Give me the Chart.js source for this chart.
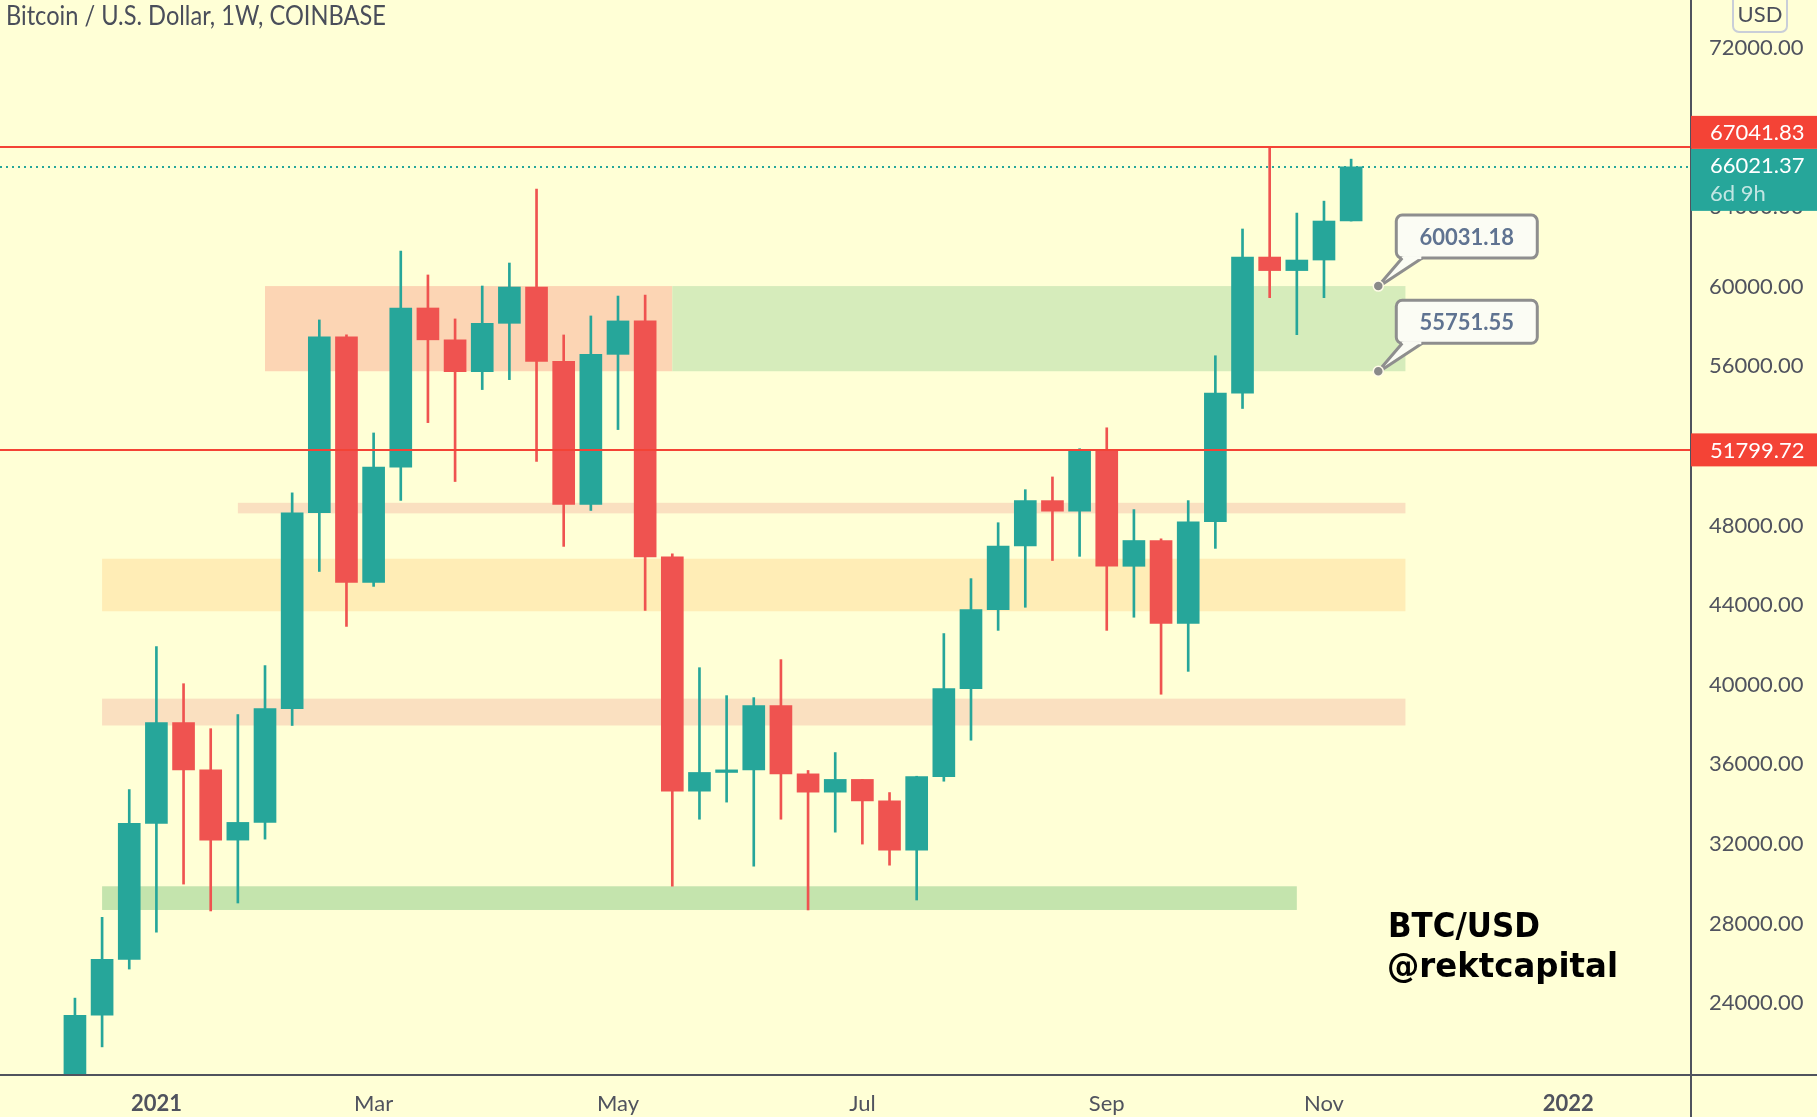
<!DOCTYPE html>
<html>
<head>
<meta charset="utf-8">
<script src="https://cdn.jsdelivr.net/npm/chart.js@4.4.1/dist/chart.umd.min.js"></script>
<style>
  html, body { margin: 0; padding: 0; background: #ffffd6; }
  #wrap { width: 1817px; height: 1117px; }
</style>
</head>
<body>
<div id="wrap"><canvas id="btcChart"></canvas></div>
<script>
// weekly candles, Coinbase BTC/USD (week starting Monday)
const weeks = ['2020-12-14','2020-12-21','2020-12-28','2021-01-04','2021-01-11','2021-01-18','2021-01-25','2021-02-01',
  '2021-02-08','2021-02-15','2021-02-22','2021-03-01','2021-03-08','2021-03-15','2021-03-22','2021-03-29',
  '2021-04-05','2021-04-12','2021-04-19','2021-04-26','2021-05-03','2021-05-10','2021-05-17','2021-05-24',
  '2021-05-31','2021-06-07','2021-06-14','2021-06-21','2021-06-28','2021-07-05','2021-07-12','2021-07-19',
  '2021-07-26','2021-08-02','2021-08-09','2021-08-16','2021-08-23','2021-08-30','2021-09-06','2021-09-13',
  '2021-09-20','2021-09-27','2021-10-04','2021-10-11','2021-10-18','2021-10-25','2021-11-01','2021-11-08'];
const open  = [19200,23390,26200,33030,38100,35720,32190,33080,38800,48640,57475,45140,50930,58930,57330,55730,
  58160,59985,56250,49060,56600,58280,46420,34650,35590,35720,38950,35520,34600,35240,34160,31690,
  35380,39800,43770,46970,49250,48720,51760,45950,47245,43080,48190,54650,61490,60810,61340,63300];
const high  = [24250,28310,34730,41910,40050,37790,38500,40960,49640,58330,57580,52650,61790,60590,58380,60035,
  61190,64900,57575,58530,59530,59580,46580,40855,39450,39350,41260,35690,36590,35240,34580,35400,
  42570,45330,48140,49800,50440,51860,52910,48800,47330,49250,56530,62900,67041.83,63700,64300,66410];
const low   = [19000,21800,25710,27570,29980,28630,29030,32240,37950,45690,42930,44940,49260,53170,50210,54830,
  55330,51215,46950,48755,52820,43735,29880,33240,34100,30880,33240,28680,32590,31990,30930,29180,
  35150,37210,42730,43890,46240,46450,42730,43390,39520,40670,46850,53880,59450,57590,59450,63300];
const close = [23390,26200,33030,38100,35720,32190,33080,38800,48640,57475,45140,50930,58930,57330,55730,58160,
  59985,56250,49060,56600,58280,46420,34650,35590,35720,38950,35520,34600,35240,34160,31690,35380,
  39800,43770,46970,49250,48720,51760,45950,47245,43080,48190,54650,61490,60810,61340,63300,66021.37];

const xTickIdx = [3, 11, 20, 29, 38, 46, 55];
const xTickLabels = ['2021', 'Mar', 'May', 'Jul', 'Sep', 'Nov', '2022'];
const yTicks = [24000, 28000, 32000, 36000, 40000, 44000, 48000, 52000, 56000, 60000, 64000, 68000, 72000];

const levelLines = [67041.83, 51799.72];
const lastPrice = 66021.37;
const countdown = '6d 9h';

// drawn zones: week index from/to, price low/high
const zoneStart = [7, 22, 6, 1, 1, 1];
const zoneEnd   = [22, 49, 49, 49, 49, 45];
const zoneLow   = [55751.55, 55751.55, 48610, 43690, 37950, 28680];
const zoneHigh  = [60031.18, 60031.18, 49140, 46330, 39300, 29870];
const calloutIdx = 48;
const calloutValues = [60031.18, 55751.55];

const UP = '#26a69a', DOWN = '#ef5350', RED = '#f44336', TEXT = '#50535e', BG = '#ffffd6';
const zoneColors = ['#fcd5b4', '#d6ecbb', '#fae0c0', '#ffedb6', '#fae0c0', '#c4e4ad'];

Chart.defaults.font.family = 'Lato';
Chart.defaults.color = TEXT;

const candleColors = close.map((c, i) => c >= open[i] ? UP : DOWN);

function rrect(ctx, x, y, w, h, r) {
  ctx.beginPath();
  ctx.moveTo(x + r, y);
  ctx.arcTo(x + w, y, x + w, y + h, r);
  ctx.arcTo(x + w, y + h, x, y + h, r);
  ctx.arcTo(x, y + h, x, y, r);
  ctx.arcTo(x, y, x + w, y, r);
  ctx.closePath();
}

const overlay = {
  id: 'overlay',
  beforeDraw(chart) {
    const ctx = chart.ctx;
    ctx.save();
    ctx.fillStyle = BG;
    ctx.fillRect(0, 0, chart.width, chart.height);
    ctx.restore();
  },
  beforeDatasetsDraw(chart) {
    const {ctx, chartArea: a, scales: {x, y}} = chart;
    ctx.save();
    ctx.beginPath();
    ctx.rect(a.left, a.top, a.right - a.left, a.bottom - a.top);
    ctx.clip();
    zoneStart.forEach((s, i) => {
      const x0 = x.getPixelForValue(s), x1 = x.getPixelForValue(zoneEnd[i]);
      const y0 = y.getPixelForValue(zoneHigh[i]), y1 = y.getPixelForValue(zoneLow[i]);
      ctx.fillStyle = zoneColors[i];
      ctx.fillRect(x0, y0, x1 - x0, y1 - y0);
    });
    ctx.restore();
  },
  afterDatasetsDraw(chart) {
    const {ctx, chartArea: a, scales: {x, y}} = chart;
    ctx.save();
    // horizontal levels
    ctx.strokeStyle = RED;
    ctx.lineWidth = 2;
    levelLines.forEach(v => {
      const py = Math.round(y.getPixelForValue(v));
      ctx.beginPath(); ctx.moveTo(a.left, py); ctx.lineTo(a.right, py); ctx.stroke();
    });
    // last price dotted line
    const lp = Math.round(y.getPixelForValue(lastPrice));
    ctx.strokeStyle = UP;
    ctx.setLineDash([2, 4]);
    ctx.beginPath(); ctx.moveTo(a.left, lp); ctx.lineTo(a.right, lp); ctx.stroke();
    ctx.setLineDash([]);

    // callouts
    calloutValues.forEach(v => {
      const px = x.getPixelForValue(calloutIdx), py = y.getPixelForValue(v);
      const bx = px + 18, by = py - 71, bw = 141, bh = 43;
      ctx.lineWidth = 3;
      ctx.strokeStyle = '#8e8e8e';
      ctx.fillStyle = '#fbfcf4';
      rrect(ctx, bx, by, bw, bh, 6);
      ctx.fill(); ctx.stroke();
      // tail
      ctx.beginPath();
      ctx.moveTo(bx + 6, by + bh - 1.5);
      ctx.lineTo(px + 2, py - 2);
      ctx.lineTo(bx + 26, by + bh - 1.5);
      ctx.closePath();
      ctx.fill();
      ctx.beginPath();
      ctx.moveTo(bx + 6, by + bh); ctx.lineTo(px, py);
      ctx.moveTo(bx + 26, by + bh); ctx.lineTo(px + 3, py - 1);
      ctx.stroke();
      ctx.fillStyle = '#fbfcf4';
      ctx.fillRect(bx + 7, by + bh - 2, 18, 3);
      // anchor dot
      ctx.beginPath(); ctx.arc(px, py, 5, 0, Math.PI * 2);
      ctx.fillStyle = '#8a8a8a'; ctx.fill();
      ctx.lineWidth = 1.5; ctx.strokeStyle = '#fffbe8'; ctx.stroke();
      ctx.fillStyle = '#5f7391';
      ctx.font = 'bold 22px Lato';
      ctx.textAlign = 'center';
      ctx.textBaseline = 'middle';
      ctx.fillText(v.toFixed(2), bx + bw / 2, by + bh / 2 + 1);
    });

    // signature
    ctx.fillStyle = '#000';
    ctx.textAlign = 'left';
    ctx.textBaseline = 'alphabetic';
    ctx.font = 'bold 34px "DejaVu Sans"';
    ctx.fillText('BTC/USD', a.left + 1388, 937, 152);
    ctx.fillText('@rektcapital', a.left + 1387, 977, 231);
    ctx.restore();
  },
  afterDraw(chart) {
    const {ctx, chartArea: a, scales: {y}} = chart;
    ctx.save();
    // axis lines
    ctx.strokeStyle = TEXT;
    ctx.lineWidth = 2;
    ctx.beginPath();
    ctx.moveTo(0, a.bottom + 1); ctx.lineTo(chart.width, a.bottom + 1);
    ctx.moveTo(a.right + 1, 0); ctx.lineTo(a.right + 1, chart.height);
    ctx.stroke();

    ctx.font = '22px Lato';
    ctx.textBaseline = 'middle';
    ctx.textAlign = 'left';
    const bx = a.right + 1, bw = chart.width - bx;
    // last price box
    const lp = y.getPixelForValue(lastPrice);
    const tTop = lp - 18;
    ctx.fillStyle = UP;
    ctx.fillRect(bx, tTop, bw, 62);
    ctx.fillStyle = '#fff';
    ctx.fillText(lastPrice.toFixed(2), a.right + 20, tTop + 17);
    ctx.fillStyle = 'rgba(255,255,255,0.72)';
    ctx.fillText(countdown, a.right + 20, tTop + 45);
    // level boxes
    levelLines.forEach(v => {
      let cy = y.getPixelForValue(v);
      if (cy + 16.5 > tTop && cy - 16.5 < tTop + 62) cy = tTop - 16.5;
      ctx.fillStyle = RED;
      ctx.fillRect(bx, cy - 16.5, bw, 33);
      ctx.fillStyle = '#fff';
      ctx.fillText(v.toFixed(2), a.right + 20, cy + 1);
    });
    // currency box
    ctx.strokeStyle = '#c9ced8';
    ctx.lineWidth = 2;
    rrect(ctx, 1733, -6, 54, 38, 6);
    ctx.stroke();
    ctx.fillStyle = '#4a4e5a';
    ctx.textAlign = 'center';
    ctx.fillText('USD', 1760, 15);
    // title
    ctx.textAlign = 'left';
    ctx.fillStyle = '#4a4e5a';
    ctx.font = '26px Lato';
    ctx.fillText('Bitcoin / U.S. Dollar, 1W, COINBASE', 6, 17, 380);
    ctx.restore();
  }
};

new Chart(document.getElementById('btcChart'), {
  type: 'bar',
  data: {
    labels: weeks,
    datasets: [{
      label: 'wick',
      data: weeks.map((w, i) => ({x: i, y: [low[i], high[i]]})),
      backgroundColor: candleColors,
      barThickness: 2,
      grouped: false,
      borderWidth: 0,
      order: 2
    },
    {
      label: 'body',
      data: weeks.map((w, i) => ({x: i, y: [open[i], close[i]]})),
      backgroundColor: candleColors,
      barThickness: 22,
      grouped: false,
      borderWidth: 0,
      order: 1
    }]
  },
  options: {
    responsive: true,
    maintainAspectRatio: false,
    animation: false,
    layout: { padding: 0 },
    scales: {
      x: {
        type: 'linear',
        offset: false,
        min: -2.76,
        max: 59.48,
        grid: { display: false, drawTicks: false, offset: false },
        border: { display: false },
        ticks: {
          // year labels are bold, months regular
          font: c => ({ size: 22, weight: /^\d{4}$/.test(xTickLabels[c.index] || '') ? 'bold' : 'normal' }),
          color: TEXT,
          padding: 17,
          maxRotation: 0,
          autoSkip: false,
          callback: v => xTickLabels[xTickIdx.indexOf(v)] || ''
        },
        afterBuildTicks: s => { s.ticks = xTickIdx.map(v => ({value: v})); },
        afterFit: s => { s.height = 43; s.paddingLeft = 0; s.paddingRight = 0; }
      },
      y: {
        position: 'right',
        min: 20437,
        max: 74407,
        grid: { display: false, drawTicks: false },
        border: { display: false },
        ticks: {
          font: { size: 22 },
          color: TEXT,
          padding: 19,
          callback: v => Number(v).toFixed(2)
        },
        afterBuildTicks: s => { s.ticks = yTicks.map(v => ({value: v})); },
        afterFit: s => { s.width = 127; s.paddingTop = 0; s.paddingBottom = 0; }
      }
    },
    plugins: {
      legend: { display: false },
      tooltip: { enabled: false }
    }
  },
  plugins: [overlay]
});
</script>
</body>
</html>
